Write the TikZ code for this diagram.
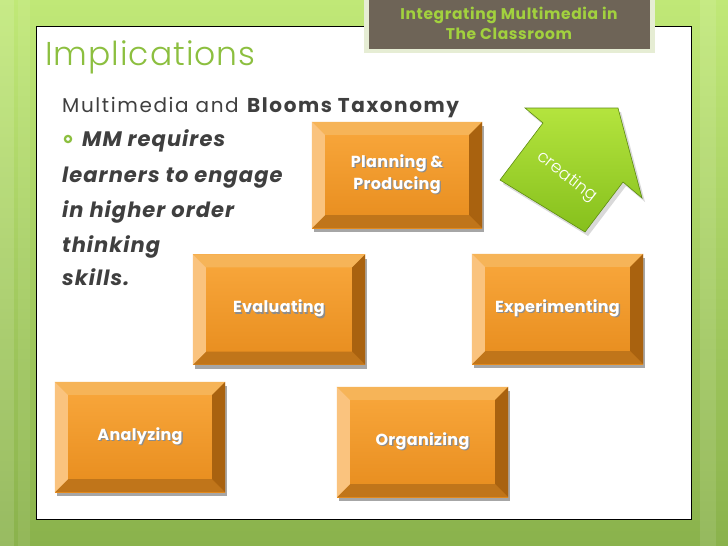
\documentclass[tikz,border=0pt]{standalone}
\usepackage{fontspec}
\setmainfont{Poppins}
\newfontfamily\lightfont{Poppins Light}
\usepackage{tikz}
\usetikzlibrary{shadows}

\definecolor{bggreen}{HTML}{C0E877}
\definecolor{bgdark}{HTML}{8AB24C}
\definecolor{tabfill}{HTML}{6E6457}
\definecolor{tabframe}{HTML}{E6EDD4}
\definecolor{tabtext}{HTML}{A2D13E}
\definecolor{headgreen}{HTML}{8CBF3F}
\definecolor{bodygray}{HTML}{3F3F3F}
\definecolor{facetop}{HTML}{F9A83D}
\definecolor{facebot}{HTML}{E78C1D}
\definecolor{bevleft}{HTML}{FAC37E}
\definecolor{bevtop}{HTML}{F6B458}
\definecolor{bevright}{HTML}{A9620F}
\definecolor{bevbot}{HTML}{C0751A}
\definecolor{arrowlight}{HTML}{B4E43E}
\definecolor{arrowdark}{HTML}{86C01C}
\definecolor{arrowedge}{HTML}{5E8C12}

\tikzset{
  bloom/.style={minimum width=171, minimum height=110, inner sep=0pt,
    top color=facetop, bottom color=facebot, draw=none,
    drop shadow={shadow xshift=1.5pt, shadow yshift=-4pt, opacity=.35, fill=black},
    text=white, font=\fontsize{16}{22}\selectfont\bfseries\addfontfeature{LetterSpace=2}, align=center},
  bodyline/.style={anchor=base west, inner sep=0pt, text=bodygray,
    font=\fontsize{21}{25}\selectfont\bfseries\itshape\addfontfeature{LetterSpace=5}}
}

% white label with a soft dark shadow
\newcommand\shtext[1]{\leavevmode\rlap{\hspace{1.3pt}\raisebox{-1.5pt}{\color{black!45}#1}}#1}

% bevel edges round a box node
\newcommand\bevelit[1]{%
  \fill[bevtop] (#1.north west) -- (#1.north east) -- ([shift={(-13,13)}]#1.north east) -- ([shift={(13,13)}]#1.north west) -- cycle;
  \fill[bevbot] (#1.south west) -- (#1.south east) -- ([shift={(-13,-13)}]#1.south east) -- ([shift={(13,-13)}]#1.south west) -- cycle;
  \fill[bevleft] (#1.north west) -- (#1.south west) -- ([shift={(13,-13)}]#1.south west) -- ([shift={(13,13)}]#1.north west) -- cycle;
  \fill[bevright] (#1.north east) -- (#1.south east) -- ([shift={(-13,-13)}]#1.south east) -- ([shift={(-13,13)}]#1.north east) -- cycle;
}

\begin{document}
\begin{tikzpicture}[x=1pt,y=-1pt]
\useasboundingbox (0,0) rectangle (728,546);
% background
\shade[top color=bggreen, bottom color=bgdark] (0,0) rectangle (728,546);
\fill[white,opacity=.12] (0,0) rectangle (14,546);
\fill[white,opacity=.08] (18,0) rectangle (30,546);
\fill[white,opacity=.10] (700,0) rectangle (716,546);
% slide panel and tab
\draw[black, line width=1, fill=white] (36,26) rectangle (691,519);
\fill[tabframe] (364,0) rectangle (655,53);
\fill[tabfill] (369,0) rectangle (650,49);
\node [text=tabtext, font=\fontsize{15.5}{20}\selectfont\bfseries\addfontfeature{LetterSpace=4}, align=center] (tab) at (509,23) {Integrating Multimedia in\\The Classroom};

% text on the left
\node [anchor=base west, inner sep=0pt, text=headgreen, font=\fontsize{33}{38}\lightfont\addfontfeature{LetterSpace=3}] (title) at (45,65) {Implications};
\node [anchor=base west, inner sep=0pt, text=bodygray, font=\fontsize{20}{24}\selectfont\addfontfeature{LetterSpace=8}] (sub) at (62,112) {Multimedia and \textbf{Blooms Taxonomy}};
\node [circle, draw=headgreen, line width=2.2pt, inner sep=2.2pt] (dot) at (68,139) {};
\node [bodyline] (l1) at (82,146) {MM requires};
\node [bodyline] (l2) at (62,182) {learners to engage};
\node [bodyline] (l3) at (62,217) {in higher order};
\node [bodyline] (l4) at (62,252) {thinking};
\node [bodyline] (l5) at (62,285) {skills.};

% bloom boxes
\node [bloom, minimum width=170, minimum height=106] (plan) at (397,175) {\shtext{Planning \&}\\\shtext{Producing}};
\bevelit{plan}
\node [bloom, minimum width=172] (eval) at (279,309.5) {\shtext{Evaluating}};
\bevelit{eval}
\node [bloom] (expt) at (557.5,309) {\shtext{Experimenting}};
\bevelit{expt}
\node [bloom, minimum width=170] (anal) at (140,437) {\shtext{Analyzing}};
\bevelit{anal}
\node [bloom] (org) at (422.5,442) {\shtext{Organizing}};
\bevelit{org}

% creating arrow
\fill[black,opacity=.15] (528,112) -- (621,112) -- (645,202) -- (626,186) -- (588,236) -- (503,184) -- (546,127) -- cycle;
\shade[top color=arrowlight, bottom color=arrowdark, draw=arrowedge, line width=.6pt]
  (525,108) -- (618,108) -- (642,198) -- (623,182) -- (585,232) -- (500,180) -- (543,123) -- cycle;
\node [rotate=-38, text=white, font=\fontsize{17}{19}\lightfont] (creating) at (567,177) {creating};
\end{tikzpicture}
\end{document}
